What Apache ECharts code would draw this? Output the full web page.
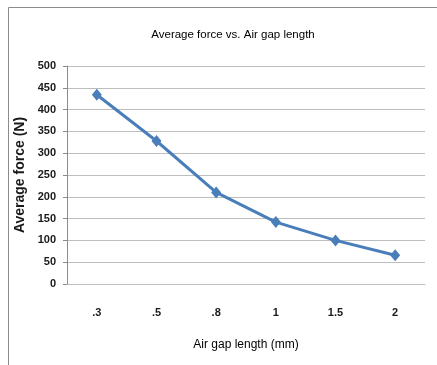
<!DOCTYPE html>
<html>
<head>
<meta charset="utf-8">
<script src="https://cdn.jsdelivr.net/npm/echarts@6/dist/echarts.min.js"></script>
<style>
  html, body { margin: 0; padding: 0; background: #ffffff; }
  #chart { width: 437px; height: 365px; }
</style>
</head>
<body>
<div id="chart"></div>
<script>
// Air gap lengths (mm) as printed on the category axis
const gapLabels = ['.3', '.5', '.8', '1', '1.5', '2'];
// Average force (N) for each air gap
const avgForce = [434, 328, 210, 142, 100, 66];
// Force axis ticks
const forceMin = 0;
const forceMax = 500;
const forceStep = 50;

const FONT = '"Liberation Sans", Arial, sans-serif';

const chart = echarts.init(document.getElementById('chart'), null, { renderer: 'canvas' });

chart.setOption({
  animation: false,
  backgroundColor: '#ffffff',
  title: {
    text: 'Average force vs. Air gap length',
    left: 228,
    textAlign: 'center',
    top: 24,
    textStyle: { fontFamily: FONT, fontSize: 11.5, fontWeight: 'normal', color: '#000000' }
  },
  graphic: [{
    type: 'polyline',
    shape: { points: [[8.5, 365], [8.5, 7.5], [437, 7.5]] },
    style: { stroke: '#8c8c8c', lineWidth: 1, fill: null },
    silent: true
  }],
  grid: { left: 67, right: 12, top: 66, bottom: 81, containLabel: false },
  xAxis: {
    type: 'category',
    data: gapLabels,
    boundaryGap: true,
    name: 'Air gap length (mm)',
    nameLocation: 'middle',
    nameGap: 55,
    nameTextStyle: { fontFamily: FONT, fontSize: 12, color: '#000000' },
    axisLine: { show: true, lineStyle: { color: '#bdbdbd', width: 1 } },
    axisTick: { show: false },
    axisLabel: { margin: 23, fontFamily: FONT, fontSize: 11, fontWeight: 'bold', color: '#1a1a1a' }
  },
  yAxis: {
    type: 'value',
    min: forceMin,
    max: forceMax,
    interval: forceStep,
    name: 'Average force (N)',
    nameLocation: 'middle',
    nameRotate: 90,
    nameGap: 35,
    nameTextStyle: { fontFamily: FONT, fontSize: 14, fontWeight: 'bold', color: '#1a1a1a' },
    axisLine: { show: true, lineStyle: { color: '#8c8c8c', width: 1 } },
    axisTick: { show: true, length: 4, lineStyle: { color: '#8c8c8c' } },
    axisLabel: { margin: 11, fontFamily: FONT, fontSize: 11, fontWeight: 'bold', color: '#1a1a1a' },
    splitLine: { show: true, lineStyle: { color: '#bdbdbd', width: 1 } }
  },
  series: [{
    type: 'line',
    data: avgForce,
    symbol: 'diamond',
    symbolSize: [10, 12],
    lineStyle: { color: '#4a7ebb', width: 3 },
    itemStyle: { color: '#4a7ebb' },
    z: 3
  }]
});
</script>
</body>
</html>
